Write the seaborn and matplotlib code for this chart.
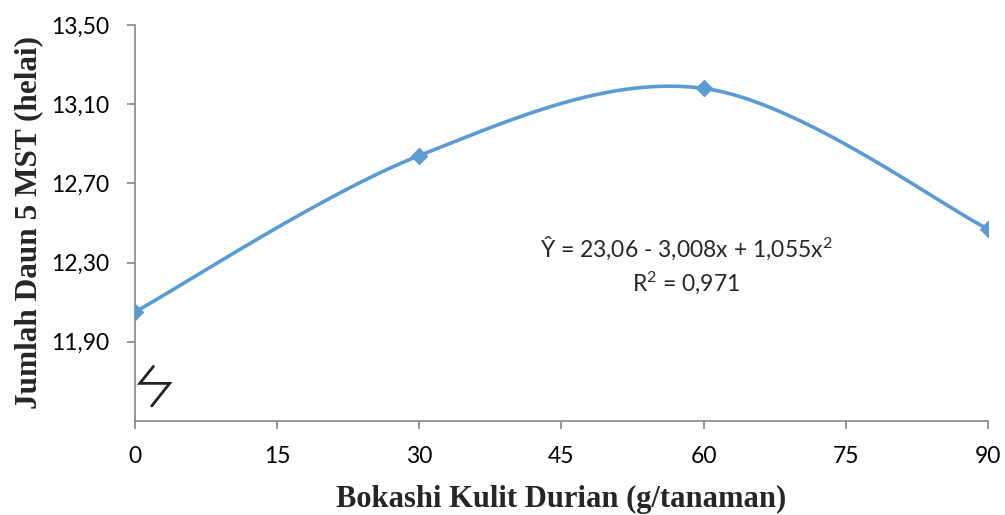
import numpy as np
import pandas as pd
import matplotlib
matplotlib.use("Agg")
import matplotlib.pyplot as plt
import seaborn as sns

# Data
dose = [0, 30, 60, 90]
leaves = [12.05, 12.84, 13.18, 12.47]
x_ticks = [0, 15, 30, 45, 60, 75, 90]
y_ticks = [11.90, 12.30, 12.70, 13.10, 13.50]
equation = r"Ŷ = 23,06 - 3,008x + 1,055x$^{2}$"
r2_text = r"R$^{2}$ = 0,971"
x_label = "Bokashi Kulit Durian (g/tanaman)"
y_label = "Jumlah Daun 5 MST (helai)"

sns.set_theme(style="white")
plt.rcParams['font.family'] = ['Lato', 'DejaVu Sans']
plt.rcParams['mathtext.fontset'] = 'custom'
plt.rcParams['mathtext.rm'] = 'Lato'
plt.rcParams['mathtext.it'] = 'Lato'
plt.rcParams['mathtext.default'] = 'regular'

LINE = "#5B9BD5"
AXC = "#868686"

# Smoothed curve through points (Catmull-Rom style Bezier, like spreadsheet smoothing)
def smooth(xs, ys, n=60):
    P = np.column_stack([xs, ys]).astype(float)
    ext = np.vstack([P[0], P, P[-1]])
    out = []
    for i in range(len(P) - 1):
        p0, p1, p2, p3 = ext[i], ext[i + 1], ext[i + 2], ext[i + 3]
        c1 = p1 + (p2 - p0) / 6.0
        c2 = p2 - (p3 - p1) / 6.0
        t = np.linspace(0, 1, n)[:, None]
        seg = ((1 - t) ** 3) * p1 + 3 * ((1 - t) ** 2) * t * c1 + 3 * (1 - t) * t ** 2 * c2 + t ** 3 * p2
        out.append(seg if i == 0 else seg[1:])
    return np.vstack(out)

curve = smooth(dose, leaves)
df_curve = pd.DataFrame({"x": curve[:, 0], "y": curve[:, 1]})
df_pts = pd.DataFrame({"x": dose, "y": leaves})

fig = plt.figure(figsize=(10.05, 5.15), dpi=100)
ax = fig.add_axes([0.134, 0.1825, 0.849, 0.769])

sns.lineplot(data=df_curve, x="x", y="y", ax=ax, color=LINE, linewidth=2.6, sort=False, estimator=None)
sns.scatterplot(data=df_pts, x="x", y="y", ax=ax, color=LINE, marker="D", s=70, edgecolor=LINE, zorder=5)

ax.set_xlim(0, 90)
ax.set_ylim(11.50, 13.50)
ax.set_xticks(x_ticks)
ax.set_xticklabels([str(v) for v in x_ticks])
ax.set_yticks(y_ticks)
ax.set_yticklabels([f"{v:.2f}".replace(".", ",") for v in y_ticks])

for s in ["top", "right"]:
    ax.spines[s].set_visible(False)
for s in ["left", "bottom"]:
    ax.spines[s].set_color(AXC)
    ax.spines[s].set_linewidth(1.2)
ax.tick_params(axis="both", which="both", direction="out", length=6, width=1.2, color=AXC,
               labelsize=16.5, labelcolor="black", left=True, bottom=True)
ax.tick_params(axis="x", pad=12)
ax.tick_params(axis="y", pad=12)

ax.set_xlabel(x_label, family="Liberation Serif", fontweight="bold", fontsize=22, labelpad=13)
ax.set_ylabel(y_label, family="Liberation Serif", fontweight="bold", fontsize=22.5, labelpad=6)

ax.text(58.2, 12.37, equation, ha="center", va="center", fontsize=16.5)
ax.text(58.2, 12.20, r2_text, ha="center", va="center", fontsize=16.5)

# Axis break symbol
ax.add_patch(plt.Rectangle((0.002, 0.04), 0.055, 0.095, transform=ax.transAxes,
                           facecolor="white", edgecolor="none", zorder=6, clip_on=False))
bx = [0.022, 0.006, 0.041, 0.020]
by = [0.138, 0.095, 0.095, 0.038]
ax.plot(bx, by, transform=ax.transAxes, color="#222222", linewidth=2.0, zorder=7,
        solid_joinstyle="miter", clip_on=False)

fig.savefig("out.png", dpi=100)
